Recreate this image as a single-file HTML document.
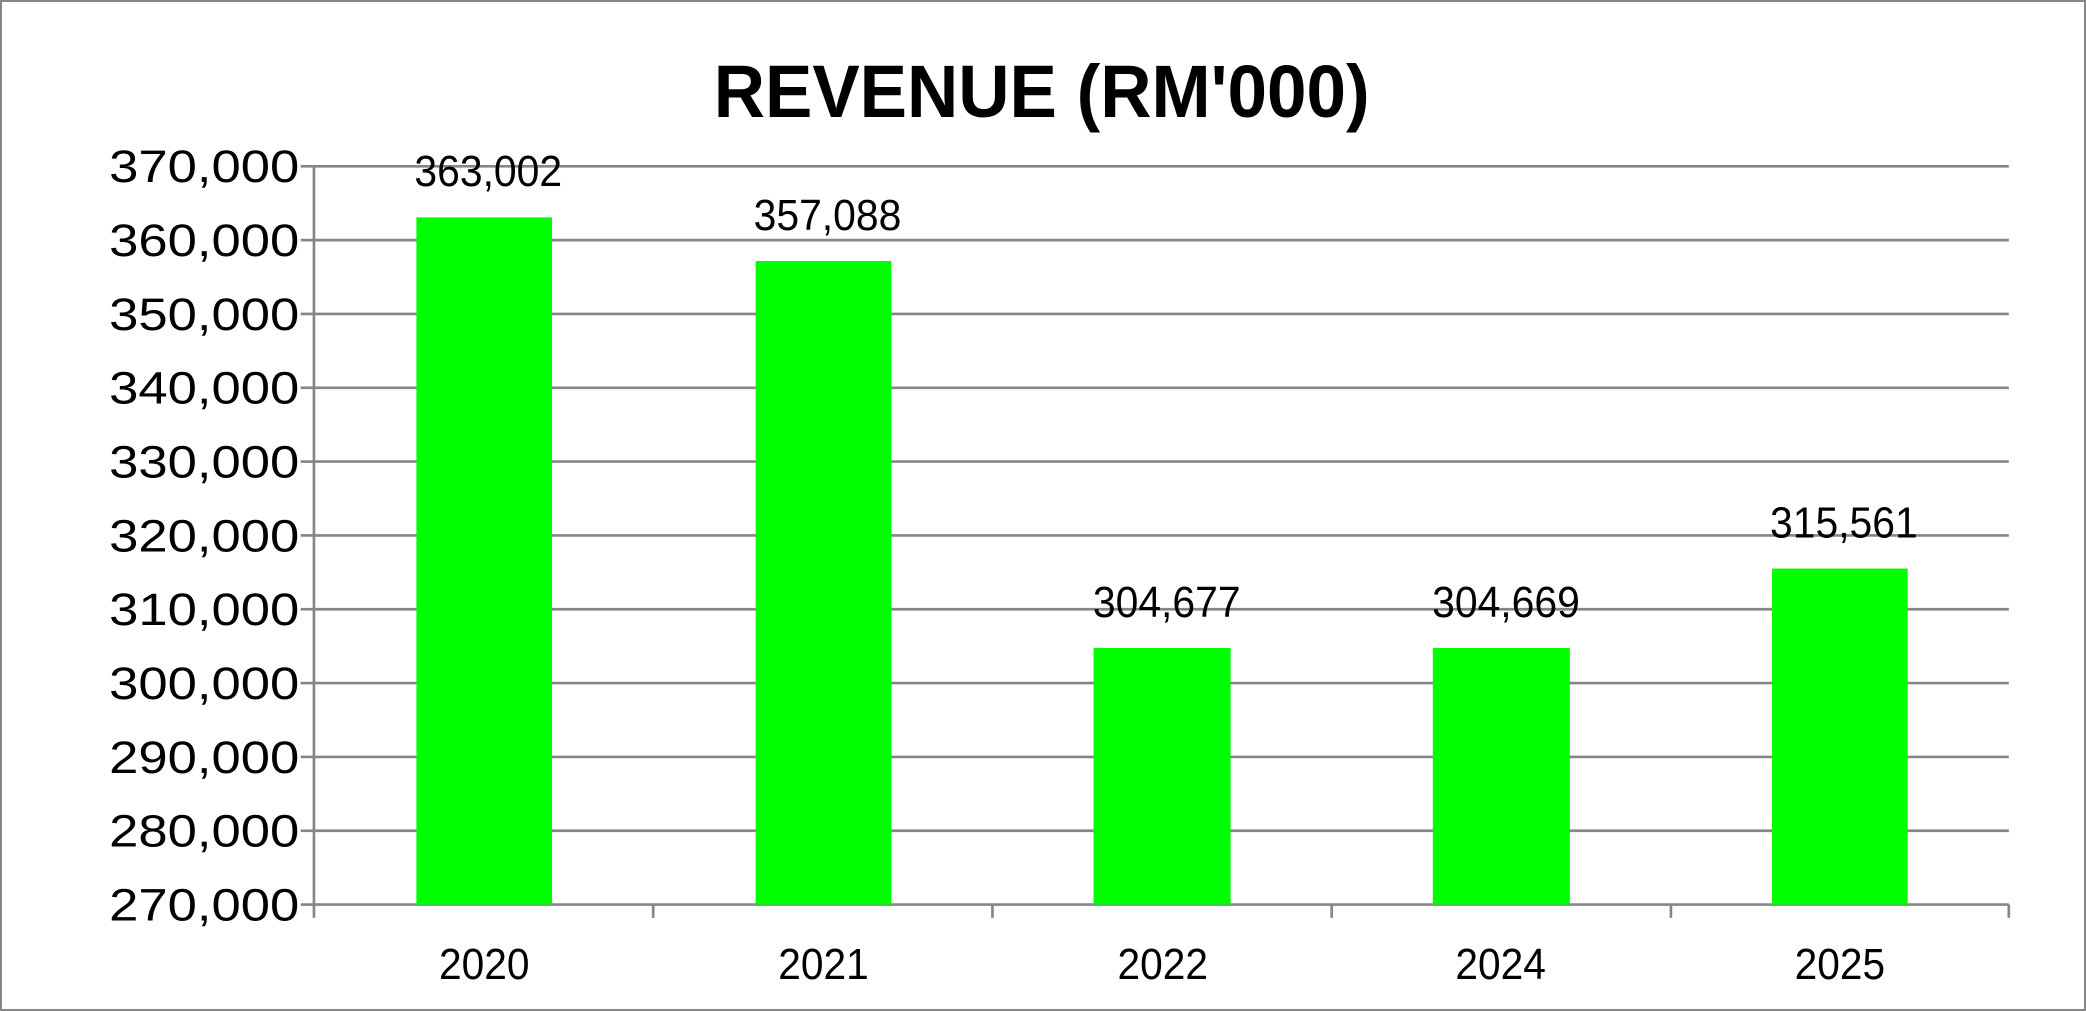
<!DOCTYPE html>
<html><head><meta charset="utf-8"><style>
html,body{margin:0;padding:0;background:#fff;}
svg{display:block;}
text{font-family:"Liberation Sans",sans-serif;fill:#000;}
</style></head><body>
<svg width="2086" height="1011" viewBox="0 0 1568 760" preserveAspectRatio="none" xmlns="http://www.w3.org/2000/svg">
<rect x="0.75" y="0.75" width="1566.5" height="758.5" fill="#fff" stroke="#868686" stroke-width="1.5"/>
<text x="783" y="88" font-size="56" font-weight="bold" text-anchor="middle" textLength="493" lengthAdjust="spacingAndGlyphs">REVENUE (RM'000)</text>
<g stroke="#868686" stroke-width="2">
<line x1="236" y1="125" x2="1510" y2="125"/>
<line x1="236" y1="180.5" x2="1510" y2="180.5"/>
<line x1="236" y1="236" x2="1510" y2="236"/>
<line x1="236" y1="291.5" x2="1510" y2="291.5"/>
<line x1="236" y1="347" x2="1510" y2="347"/>
<line x1="236" y1="402.5" x2="1510" y2="402.5"/>
<line x1="236" y1="458" x2="1510" y2="458"/>
<line x1="236" y1="513.5" x2="1510" y2="513.5"/>
<line x1="236" y1="569" x2="1510" y2="569"/>
<line x1="236" y1="624.5" x2="1510" y2="624.5"/>
<line x1="236" y1="680" x2="1510" y2="680"/>
<line x1="236" y1="125" x2="236" y2="690"/>
<line x1="226" y1="125" x2="236" y2="125"/><line x1="226" y1="180.5" x2="236" y2="180.5"/>
<line x1="226" y1="236" x2="236" y2="236"/><line x1="226" y1="291.5" x2="236" y2="291.5"/>
<line x1="226" y1="347" x2="236" y2="347"/><line x1="226" y1="402.5" x2="236" y2="402.5"/>
<line x1="226" y1="458" x2="236" y2="458"/><line x1="226" y1="513.5" x2="236" y2="513.5"/>
<line x1="226" y1="569" x2="236" y2="569"/><line x1="226" y1="624.5" x2="236" y2="624.5"/>
<line x1="226" y1="680" x2="236" y2="680"/>
<line x1="491" y1="680" x2="491" y2="690"/><line x1="746" y1="680" x2="746" y2="690"/>
<line x1="1001" y1="680" x2="1001" y2="690"/><line x1="1256" y1="680" x2="1256" y2="690"/>
<line x1="1510" y1="680" x2="1510" y2="690"/>
</g>
<g fill="#00ff00">
<rect x="313" y="163.4" width="102" height="516.6"/>
<rect x="568" y="196.2" width="102" height="483.8"/>
<rect x="822" y="487.1" width="103" height="192.9"/>
<rect x="1077" y="487.1" width="103" height="192.9"/>
<rect x="1332" y="427.4" width="102" height="252.6"/>
</g>
<g font-size="34" text-anchor="end">
<text x="225" y="137" textLength="143" lengthAdjust="spacingAndGlyphs">370,000</text><text x="225" y="192.5" textLength="143" lengthAdjust="spacingAndGlyphs">360,000</text>
<text x="225" y="248" textLength="143" lengthAdjust="spacingAndGlyphs">350,000</text><text x="225" y="303.5" textLength="143" lengthAdjust="spacingAndGlyphs">340,000</text>
<text x="225" y="359" textLength="143" lengthAdjust="spacingAndGlyphs">330,000</text><text x="225" y="414.5" textLength="143" lengthAdjust="spacingAndGlyphs">320,000</text>
<text x="225" y="470" textLength="143" lengthAdjust="spacingAndGlyphs">310,000</text><text x="225" y="525.5" textLength="143" lengthAdjust="spacingAndGlyphs">300,000</text>
<text x="225" y="581" textLength="143" lengthAdjust="spacingAndGlyphs">290,000</text><text x="225" y="636.5" textLength="143" lengthAdjust="spacingAndGlyphs">280,000</text>
<text x="225" y="692" textLength="143" lengthAdjust="spacingAndGlyphs">270,000</text>
</g>
<g font-size="33" text-anchor="middle">
<text x="364" y="736" textLength="68" lengthAdjust="spacingAndGlyphs">2020</text><text x="619" y="736" textLength="68" lengthAdjust="spacingAndGlyphs">2021</text>
<text x="874" y="736" textLength="68" lengthAdjust="spacingAndGlyphs">2022</text><text x="1128" y="736" textLength="68" lengthAdjust="spacingAndGlyphs">2024</text>
<text x="1383" y="736" textLength="68" lengthAdjust="spacingAndGlyphs">2025</text>
<text x="367" y="140" textLength="111" lengthAdjust="spacingAndGlyphs">363,002</text><text x="622" y="173" textLength="111" lengthAdjust="spacingAndGlyphs">357,088</text>
<text x="877" y="464" textLength="111" lengthAdjust="spacingAndGlyphs">304,677</text><text x="1132" y="464" textLength="111" lengthAdjust="spacingAndGlyphs">304,669</text>
<text x="1386" y="404" textLength="111" lengthAdjust="spacingAndGlyphs">315,561</text>
</g>
</svg>
</body></html>
